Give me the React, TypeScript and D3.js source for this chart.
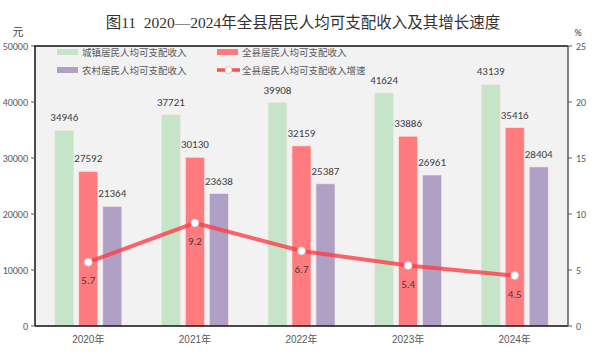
import React from "react";
import * as d3 from "d3";

const years = ["2020年", "2021年", "2022年", "2023年", "2024年"];
const urban = [34946, 37721, 39908, 41624, 43139];
const county = [27592, 30130, 32159, 33886, 35416];
const rural = [21364, 23638, 25387, 26961, 28404];
const growth = [5.7, 9.2, 6.7, 5.4, 4.5];
const leftTicks = [0, 10000, 20000, 30000, 40000, 50000];
const rightTicks = [0, 5, 10, 15, 20, 25];

const W = 608;
const H = 354;
const left = 35;
const right = 568;
const top = 46;
const bottom = 326;

const series = [
  { name: "城镇居民人均可支配收入", values: urban, color: "#c6e5c8" },
  { name: "全县居民人均可支配收入", values: county, color: "#ff7b7e" },
  { name: "农村居民人均可支配收入", values: rural, color: "#b1a0c6" },
];

const App = () => {
  const x = d3.scaleBand().domain(years).range([left, right]);
  const y = d3.scaleLinear().domain([0, 50000]).range([bottom, top]);
  const y2 = d3.scaleLinear().domain([0, 25]).range([bottom, top]);
  const barW = 19;
  const step = 24;
  const cx = (i) => x(years[i]) + x.bandwidth() / 2;

  const line = d3
    .line()
    .x((d, i) => cx(i))
    .y((d) => y2(d));

  const font = "Calibri, 'Liberation Sans', 'Noto Sans CJK SC', sans-serif";

  return (
    <svg
      width={W}
      height={H}
      style={{ position: "absolute", left: 0, top: 0 }}
      fontFamily={font}
    >
      <rect width={W} height={H} fill="#fff" />
      <text
        x={303}
        y={28}
        textAnchor="middle"
        fontSize={15.5}
        fill="#333"
        fontFamily="'Liberation Serif', 'Noto Sans CJK SC', serif"
      >
        {"图11\u00a0\u00a02020—2024年全县居民人均可支配收入及其增长速度"}
      </text>
      <text x={18} y={36} textAnchor="middle" fontSize={11} fill="#404040" fontFamily="'Noto Sans CJK SC', sans-serif">
        元
      </text>
      <text x={578} y={36} textAnchor="middle" fontSize={10} fill="#404040">
        %
      </text>

      <rect x={left} y={top} width={right - left} height={bottom - top} fill="#f2f2f2" />

      {series.map((s, si) =>
        s.values.map((v, i) => {
          const bx = cx(i) + (si - 1) * step - barW / 2;
          return (
            <g key={s.name + i}>
              <rect
                x={bx}
                y={y(v)}
                width={barW}
                height={bottom - y(v)}
                fill={s.color}
                stroke="#fbe4e4"
                strokeWidth={0.6}
              />
              <text
                x={bx + barW / 2}
                y={y(v) - 9}
                textAnchor="middle"
                fontSize={11}
                fill="#404040"
              >
                {v}
              </text>
            </g>
          );
        })
      )}

      <path d={line(growth)} fill="none" stroke="#ff3c46" strokeOpacity={0.8} strokeWidth={4} />
      {growth.map((g, i) => (
        <g key={"g" + i}>
          <circle cx={cx(i)} cy={y2(g)} r={4} fill="#fff" stroke="#bfbfbf" strokeWidth={0.8} />
          <text x={cx(i)} y={y2(g) + 22} textAnchor="middle" fontSize={11} fill="#404040">
            {g}
          </text>
        </g>
      ))}

      {/* axes */}
      <line x1={left - 1} x2={right} y1={top} y2={top} stroke="#111" strokeWidth={1.5} />
      <line x1={left} x2={left} y1={top} y2={bottom} stroke="#111" strokeWidth={1.5} />
      <line x1={left} x2={right} y1={bottom} y2={bottom} stroke="#111" strokeWidth={1.5} />
      <line x1={right} x2={right} y1={top} y2={bottom} stroke="#595959" strokeWidth={1.5} />

      {leftTicks.map((t) => (
        <g key={"l" + t}>
          <line x1={left - 4} x2={left} y1={y(t)} y2={y(t)} stroke="#595959" />
          <text x={28} y={y(t) + 3.5} textAnchor="end" fontSize={10} fill="#595959">
            {t}
          </text>
        </g>
      ))}
      {rightTicks.map((t) => (
        <g key={"r" + t}>
          <line x1={right} x2={right + 4} y1={y2(t)} y2={y2(t)} stroke="#595959" />
          <text x={576} y={y2(t) + 3.5} textAnchor="start" fontSize={10} fill="#595959">
            {t}
          </text>
        </g>
      ))}
      {years.map((yr, i) => (
        <text
          key={yr}
          x={cx(i)}
          y={343}
          textAnchor="middle"
          fontSize={10}
          fill="#595959"
          fontFamily="'Liberation Sans', 'Noto Sans CJK SC', sans-serif"
        >
          {yr}
        </text>
      ))}

      {/* legend */}
      {[
        { label: series[0].name, color: series[0].color, lx: 57, ly: 52, kind: "bar" },
        { label: series[1].name, color: series[1].color, lx: 217, ly: 52, kind: "bar" },
        { label: series[2].name, color: series[2].color, lx: 57, ly: 70, kind: "bar" },
        { label: "全县居民人均可支配收入增速", color: "#ff5050", lx: 217, ly: 70, kind: "line" },
      ].map((l) => (
        <g key={l.label}>
          {l.kind === "bar" ? (
            <rect x={l.lx} y={l.ly - 3} width={21} height={6} fill={l.color} />
          ) : (
            <g>
              <line x1={l.lx} x2={l.lx + 23} y1={l.ly} y2={l.ly} stroke="#ff5050" strokeWidth={3.5} />
              <circle cx={l.lx + 11.5} cy={l.ly} r={3.5} fill="#fff" stroke="#bfbfbf" strokeWidth={0.8} />
            </g>
          )}
          <text
            x={l.lx + 25}
            y={l.ly + 3.5}
            fontSize={9.5}
            fill="#595959"
            fontFamily="'Noto Sans CJK SC', sans-serif"
          >
            {l.label}
          </text>
        </g>
      ))}
    </svg>
  );
};

export default App;
